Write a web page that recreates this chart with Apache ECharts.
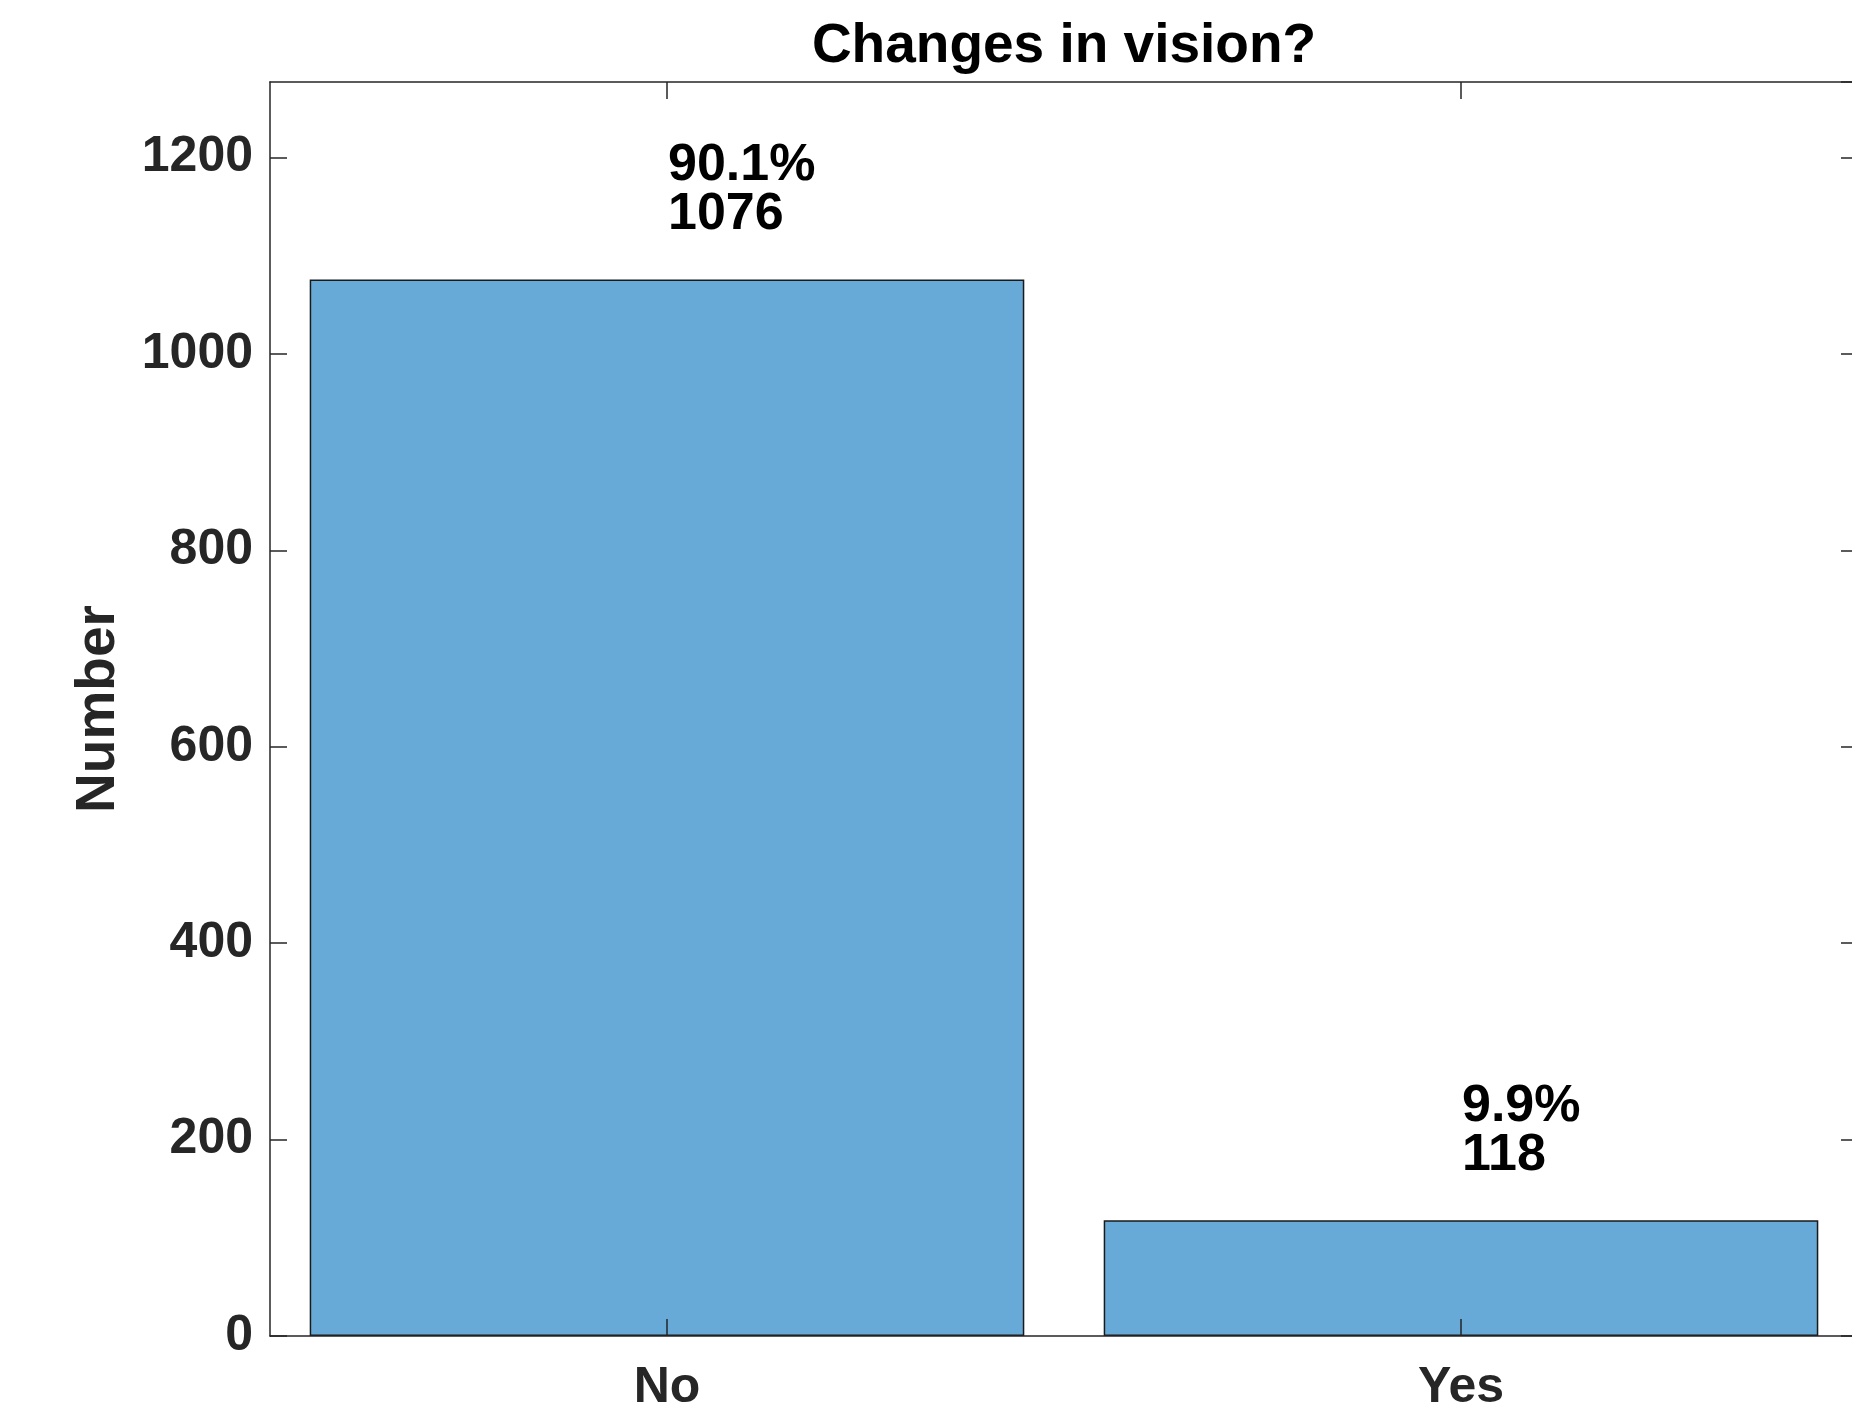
<!DOCTYPE html>
<html>
<head>
<meta charset="utf-8">
<script src="https://cdn.jsdelivr.net/npm/echarts@6/dist/echarts.min.js"></script>
<style>
  html, body { margin: 0; padding: 0; background: #fff; overflow: hidden; }
  #chart { width: 1852px; height: 1418px; }
</style>
</head>
<body>
<div id="chart"></div>
<script>
// 数据
const categories = ['No', 'Yes']
const counts = [1076, 118]
const percents = [90.1, 9.9]
const yTicks = [0, 200, 400, 600, 800, 1000, 1200]

const chart = echarts.init(document.getElementById('chart'))
const axisColor = '#262626'
const font = 'Helvetica, Arial, "Liberation Sans", sans-serif'

let option = {
  animation: false,
  title: {
    text: 'Changes in vision?',
    left: 1064,
    top: 19,
    padding: 0,
    textAlign: 'center',
    textStyle: {
      fontFamily: font,
      fontSize: 55,
      fontWeight: 'bold',
      color: '#000',
    },
  },
  grid: {
    left: 270,
    top: 82,
    width: 1588,
    bottom: 82,
    outerBoundsMode: 'none',
    containLabel: false,
  },
  xAxis: [
    {
      type: 'category',
      data: categories,
      position: 'bottom',
      z: 5,
      axisLine: { show: true, onZero: false, lineStyle: { color: axisColor, width: 1.5 } },
      axisTick: { show: true, inside: true, alignWithLabel: true, length: 17, lineStyle: { color: axisColor, width: 1.5 } },
      axisLabel: {
        margin: 27,
        fontFamily: font,
        fontSize: 50,
        fontWeight: 'bold',
        color: axisColor,
      },
    },
    {
      type: 'category',
      data: categories,
      position: 'top',
      z: 5,
      axisLine: { show: true, onZero: false, lineStyle: { color: axisColor, width: 1.5 } },
      axisTick: { show: true, inside: true, alignWithLabel: true, length: 17, lineStyle: { color: axisColor, width: 1.5 } },
      axisLabel: { show: false },
    },
  ],
  yAxis: [
    {
      type: 'value',
      min: 0,
      max: 1277,
      interval: 200,
      position: 'left',
      z: 5,
      name: 'Number',
      nameLocation: 'middle',
      nameGap: 144,
      nameTextStyle: {
        fontFamily: font,
        fontSize: 55,
        fontWeight: 'bold',
        color: axisColor,
      },
      splitLine: { show: false },
      axisLine: { show: true, onZero: false, lineStyle: { color: axisColor, width: 1.5 } },
      axisTick: { show: true, inside: true, length: 17, lineStyle: { color: axisColor, width: 1.5 } },
      axisLabel: {
        margin: 17,
        showMaxLabel: false,
        fontFamily: font,
        fontSize: 50,
        fontWeight: 'bold',
        color: axisColor,
        formatter: function (value) {
          return yTicks.includes(value) ? String(value) : ''
        },
      },
    },
    {
      type: 'value',
      min: 0,
      max: 1277,
      interval: 200,
      position: 'right',
      z: 5,
      splitLine: { show: false },
      axisLine: { show: true, onZero: false, lineStyle: { color: axisColor, width: 1.5 } },
      axisTick: { show: true, inside: true, length: 17, lineStyle: { color: axisColor, width: 1.5 } },
      axisLabel: { show: false },
    },
  ],
  series: [
    {
      type: 'bar',
      xAxisIndex: 0,
      yAxisIndex: 0,
      z: 2,
      barWidth: '90%',
      data: counts,
      itemStyle: {
        color: '#67AAD7',
        borderColor: '#1a1a1a',
        borderWidth: 1.5,
      },
      label: {
        show: true,
        position: ['50%', 0],
        offset: [1, -40],
        align: 'left',
        verticalAlign: 'bottom',
        fontFamily: font,
        fontSize: 52,
        lineHeight: 49,
        fontWeight: 'bold',
        color: '#000',
        formatter: function (p) {
          return percents[p.dataIndex] + '%\n' + p.value
        },
      },
    },
  ],
}

chart.setOption(option)
</script>
</body>
</html>
